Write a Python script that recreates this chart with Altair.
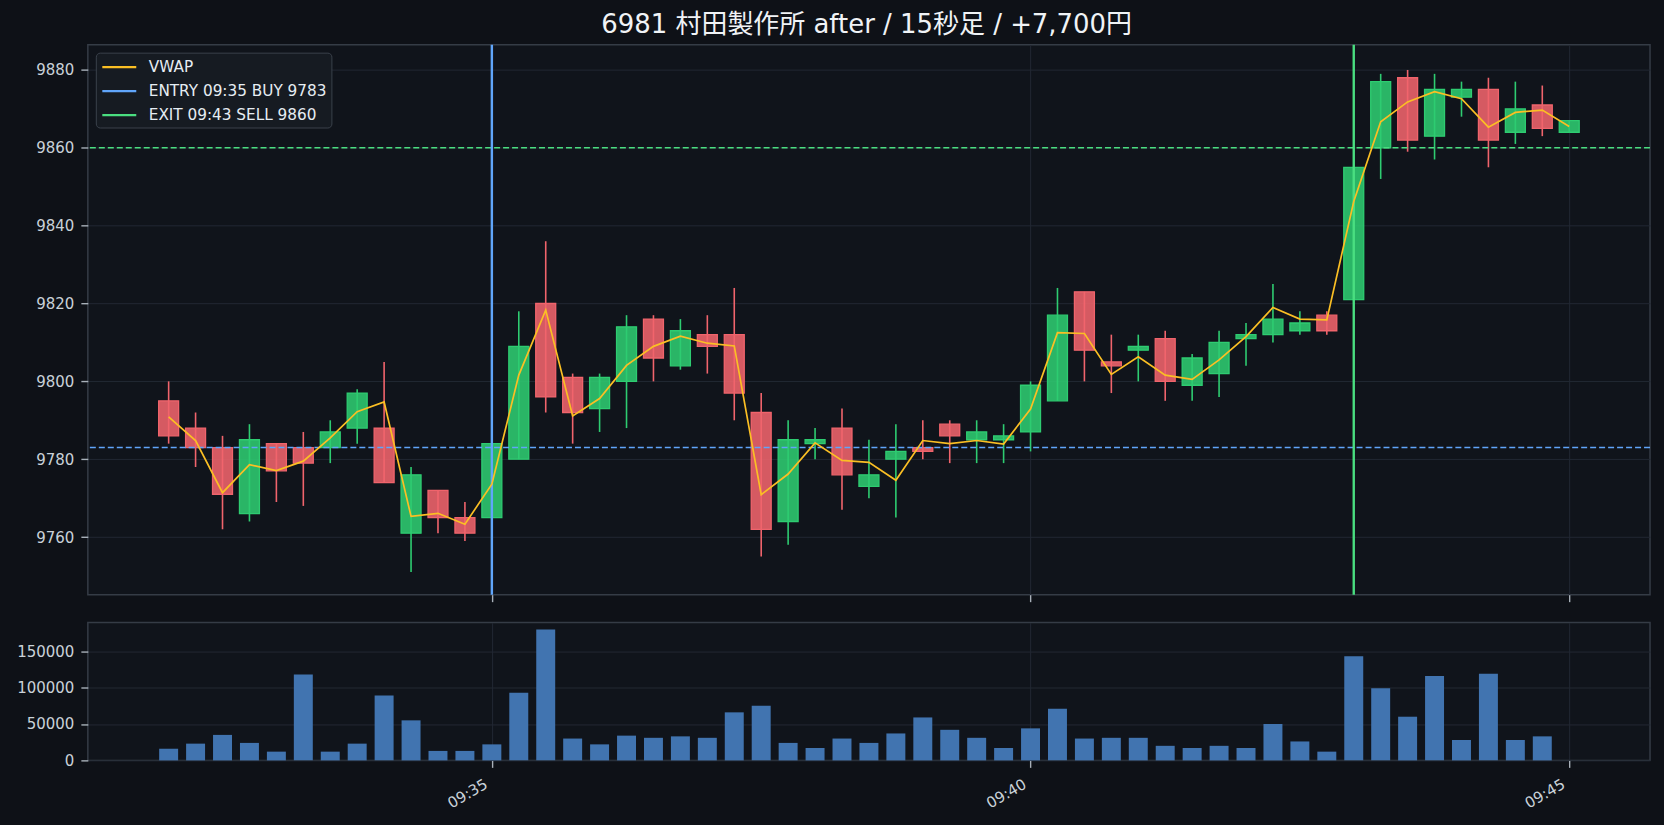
import altair as alt
import pandas as pd

# ---------------- data ----------------
times = [
    "09:32:00", "09:32:15", "09:32:30", "09:32:45", "09:33:00", "09:33:15", "09:33:30", "09:33:45",
    "09:34:00", "09:34:15", "09:34:30", "09:34:45", "09:35:00", "09:35:15", "09:35:30", "09:35:45",
    "09:36:00", "09:36:15", "09:36:30", "09:36:45", "09:37:00", "09:37:15", "09:37:30", "09:37:45",
    "09:38:00", "09:38:15", "09:38:30", "09:38:45", "09:39:00", "09:39:15", "09:39:30", "09:39:45",
    "09:40:00", "09:40:15", "09:40:30", "09:40:45", "09:41:00", "09:41:15", "09:41:30", "09:41:45",
    "09:42:00", "09:42:15", "09:42:30", "09:42:45", "09:43:00", "09:43:15", "09:43:30", "09:43:45",
    "09:44:00", "09:44:15", "09:44:30", "09:44:45", "09:45:00",
]
opens = [9795, 9788, 9783, 9766, 9784, 9783, 9783, 9788, 9788, 9761, 9772, 9765, 9765, 9780, 9820, 9801,
         9793, 9800, 9816, 9804, 9812, 9812, 9792, 9764, 9784, 9788, 9773, 9780, 9783, 9789, 9785, 9785,
         9787, 9795, 9823, 9805, 9808, 9811, 9799, 9802, 9811, 9812, 9813, 9817, 9821, 9860, 9878, 9863,
         9873, 9875, 9864, 9871, 9864]
highs = [9800, 9792, 9786, 9789, 9784, 9787, 9790, 9798, 9805, 9778, 9772, 9769, 9784, 9818, 9836, 9802,
         9802, 9817, 9817, 9816, 9817, 9824, 9797, 9790, 9788, 9793, 9785, 9789, 9790, 9790, 9790, 9789,
         9800, 9824, 9823, 9812, 9812, 9813, 9807, 9813, 9815, 9825, 9818, 9818, 9855, 9879, 9880, 9879,
         9877, 9878, 9877, 9876, 9867]
lows = [9784, 9778, 9762, 9764, 9769, 9768, 9779, 9784, 9774, 9751, 9761, 9759, 9765, 9780, 9792, 9784,
        9787, 9788, 9800, 9803, 9802, 9790, 9755, 9758, 9780, 9767, 9770, 9765, 9780, 9779, 9779, 9779,
        9782, 9795, 9800, 9797, 9800, 9795, 9795, 9796, 9804, 9810, 9812, 9812, 9821, 9852, 9859, 9857,
        9868, 9855, 9861, 9863, 9864]
closes = [9786, 9783, 9771, 9785, 9777, 9779, 9787, 9797, 9774, 9776, 9765, 9761, 9784, 9809, 9796, 9792,
          9801, 9814, 9806, 9813, 9809, 9797, 9762, 9785, 9785, 9776, 9776, 9782, 9782, 9786, 9787, 9786,
          9799, 9817, 9808, 9804, 9809, 9800, 9806, 9810, 9812, 9816, 9815, 9813, 9855, 9877, 9862, 9875,
          9875, 9862, 9870, 9865, 9867]
vwap = [9790.9, 9784.8, 9771.4, 9778.6, 9777.1, 9779.5, 9785.5, 9792.2, 9794.7, 9765.3, 9766.1, 9763.3,
        9773.6, 9801.6, 9818.3, 9791.1, 9795.6, 9804.1, 9809.0, 9811.6, 9809.8, 9809.1, 9770.9, 9776.2,
        9784.2, 9779.7, 9779.2, 9774.6, 9784.8, 9784.0, 9784.8, 9783.9, 9792.9, 9812.5, 9812.3, 9801.8,
        9806.3, 9801.6, 9800.5, 9805.5, 9811.5, 9819.0, 9816.0, 9815.8, 9846.2, 9866.7, 9871.8, 9874.4,
        9872.6, 9865.3, 9869.1, 9869.7, 9865.5]
volume = [16000, 23000, 35000, 24000, 12000, 118000, 12000, 23000, 89000, 55000, 13000, 13000, 22000,
          93000, 180000, 30000, 22000, 34000, 31000, 33000, 31000, 66000, 75000, 24000, 17000, 30000,
          24000, 37000, 59000, 42000, 31000, 17000, 44000, 71000, 30000, 31000, 31000, 20000, 17000,
          20000, 17000, 50000, 26000, 12000, 143000, 99000, 60000, 116000, 28000, 119000, 28000, 33000, 0]

legend_labels = ["VWAP", "ENTRY 09:35 BUY 9783", "EXIT 09:43 SELL 9860"]
trade_times = ["09:35:00", "09:43:00"]
level_prices = [9783, 9860]
price_ticks = [9760, 9780, 9800, 9820, 9840, 9860, 9880]
volume_ticks = [0, 50000, 100000, 150000]
title_text = "6981 村田製作所 after / 15秒足 / +7,700円"

# ---------------- style ----------------
BG = "#0e1117"
PLOT_BG = "#10141b"
FRAME = "#353c46"
GRID = "#222833"
TEXT = "#c9d1d9"
UP = "#2ecc71"
DOWN = "#f0646c"
VWAP_C = "#fbbf24"
ENTRY_C = "#60a5fa"
EXIT_C = "#4ade80"
VOL_C = "#4174b0"
FONT = "DejaVu Sans"

DAY = "2024-01-01T"
df = pd.DataFrame({
    "t": [DAY + s for s in times],
    "open": opens, "high": highs, "low": lows, "close": closes,
    "vwap": vwap, "volume": volume,
})
df["series"] = legend_labels[0]

trades = pd.DataFrame({"t": [DAY + s for s in trade_times], "series": legend_labels[1:]})
levels = pd.DataFrame({"price": level_prices, "c": [ENTRY_C, EXIT_C]})


def dt(h, m, s):
    return alt.DateTime(year=2024, month=1, date=1, hours=h, minutes=m, seconds=s)


x_scale = alt.Scale(domain=[dt(9, 31, 15), dt(9, 45, 45)], nice=False, padding=0)
x_ticks = [dt(9, 35, 0), dt(9, 40, 0), dt(9, 45, 0)]

x_main = alt.X("t:T", scale=x_scale,
               axis=alt.Axis(values=x_ticks, labels=False, title=None, format="%H:%M"))
y_scale = alt.Scale(domain=[9745.2, 9886.5], nice=False, zero=False)
y_axis = alt.Axis(values=price_ticks, title=None, format="d")

is_up = "datum.close >= datum.open"
col = alt.condition(is_up, alt.value(UP), alt.value(DOWN))

base = alt.Chart(df)

wicks = base.mark_rule(strokeWidth=1.6).encode(
    x=x_main,
    y=alt.Y("low:Q", scale=y_scale, axis=y_axis),
    y2="high:Q",
    stroke=col,
)
bodies = base.mark_bar(size=20, strokeWidth=1.3, fillOpacity=0.88).encode(
    x=x_main,
    y=alt.Y("open:Q", scale=y_scale, axis=y_axis),
    y2="close:Q",
    fill=col,
    stroke=col,
)
level_lines = alt.Chart(levels).mark_rule(strokeWidth=1.4, strokeDash=[6, 3]).encode(
    y=alt.Y("price:Q", scale=y_scale, axis=y_axis),
    stroke=alt.Stroke("c:N", scale=None),
)
color_scale = alt.Scale(domain=legend_labels, range=[VWAP_C, ENTRY_C, EXIT_C])
legend = alt.Legend(
    title=None, orient="top-left", offset=8, padding=4, labelLimit=500,
    fillColor="#161b22", strokeColor="#3a414b", cornerRadius=4,
    labelColor="#e6edf3", labelFont=FONT, labelFontSize=15.3,
    symbolType="M-1.89,0H1.89", symbolSize=324, symbolStrokeWidth=2.3,
    symbolOffset=9, labelOffset=19, rowPadding=5,
)
vwap_line = base.mark_line(strokeWidth=1.7).encode(
    x=x_main,
    y=alt.Y("vwap:Q", scale=y_scale, axis=y_axis),
    color=alt.Color("series:N", scale=color_scale, legend=legend),
)
trade_lines = alt.Chart(trades).mark_rule(strokeWidth=2.4).encode(
    x=x_main,
    color=alt.Color("series:N", scale=color_scale, legend=legend),
)

main = alt.layer(wicks, bodies, level_lines, trade_lines, vwap_line).properties(
    width=1565, height=551
)

vol = alt.Chart(df).mark_bar(size=19, color=VOL_C).encode(
    x=alt.X("t:T", scale=x_scale,
            axis=alt.Axis(values=x_ticks, title=None, format="%H:%M", labelAngle=330,
                          labelAlign="right", labelBaseline="middle", labelPadding=15,
                          labelOffset=-6)),
    y=alt.Y("volume:Q", scale=alt.Scale(domain=[0, 189300], nice=False),
            axis=alt.Axis(values=volume_ticks, title=None, format="d")),
).properties(width=1565, height=138)

chart = alt.vconcat(main, vol, spacing=28, bounds="flush").properties(
    title=alt.TitleParams(title_text, font=f"{FONT}, Noto Sans CJK JP", fontSize=26,
                          fontWeight="normal", color="#f0f3f6", anchor="middle", offset=5, dx=33),
    background=BG,
    padding={"left": 15, "top": 11, "right": 12, "bottom": 13},
).configure_view(
    fill=PLOT_BG, stroke=FRAME, strokeWidth=1.5,
).configure_axis(
    labelColor=TEXT, labelFont=FONT, labelFontSize=15, tickColor="#a8b0b9", tickSize=7,
    tickWidth=1.4, labelPadding=7, domain=False, gridColor=GRID, gridWidth=1, grid=True,
)

chart.save("out.html", embed_options={"renderer": "svg", "actions": False})
